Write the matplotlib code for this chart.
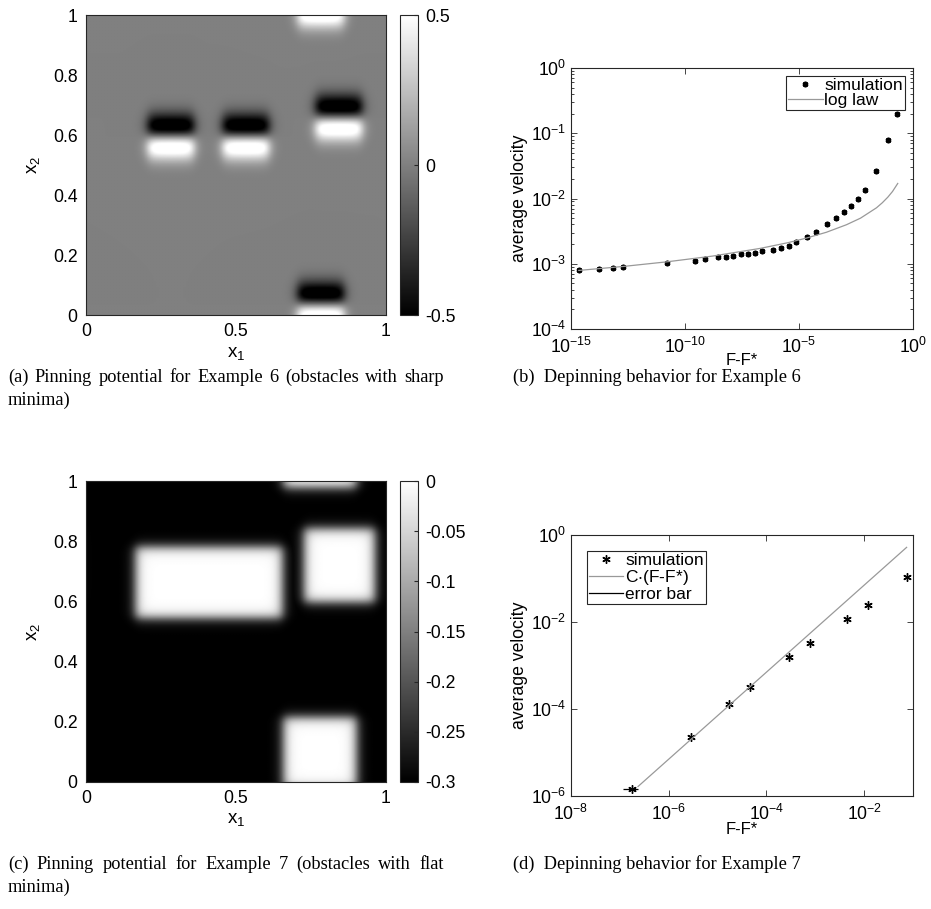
import numpy as np
import matplotlib
matplotlib.use("Agg")
import matplotlib.pyplot as plt
from matplotlib.ticker import FixedLocator, FixedFormatter, NullLocator, LogLocator

plt.rcParams["font.family"] = ["Liberation Sans", "DejaVu Sans"]
plt.rcParams["mathtext.default"] = "regular"

INK = "0.15"

# ---------------- Example 6: obstacles with sharp minima ----------------
ex6_cx = [0.283, 0.533, 0.843, 0.783]
ex6_cy = [0.595, 0.595, 0.658, 0.035]
ex6_halfw = [0.077, 0.077, 0.077, 0.077]
ex6_sigma = 0.038
ex6_amp = 0.6

# ---------------- Example 7: obstacles with flat minima -----------------
ex7_cx = [0.41, 0.845, 0.78]
ex7_cy = [0.663, 0.72, 0.097]
ex7_hx = [0.245, 0.118, 0.122]
ex7_hy = [0.118, 0.122, 0.118]
ex7_depth = -0.3

# ---------------- depinning, Example 6 ----------------
sim6_F = [2.24e-15, 1.74e-14, 7.2e-14, 1.86e-13, 1.58e-11, 2.63e-10, 7.4e-10,
          2.7e-9, 6.0e-9, 1.29e-8, 2.8e-8, 5.75e-8, 1.15e-7, 2.34e-7, 6.9e-7,
          1.62e-6, 3.55e-6, 7.4e-6, 2.24e-5, 5.4e-5, 1.74e-4, 4.2e-4, 9.3e-4,
          1.86e-3, 3.8e-3, 7.8e-3, 2.34e-2, 8.3e-2, 0.209]
sim6_v = [7.9e-4, 8.26e-4, 8.7e-4, 8.9e-4, 1.04e-3, 1.12e-3, 1.19e-3,
          1.25e-3, 1.28e-3, 1.33e-3, 1.39e-3, 1.43e-3, 1.48e-3, 1.55e-3, 1.64e-3,
          1.74e-3, 1.89e-3, 2.13e-3, 2.54e-3, 3.06e-3, 4.07e-3, 5.03e-3, 6.16e-3,
          7.8e-3, 1.0e-2, 1.34e-2, 2.6e-2, 7.8e-2, 0.196]
loglaw_F = [2.2e-15, 2.0e-13, 1.6e-11, 1.6e-9, 2.0e-7, 3.2e-6, 2.0e-5, 1.6e-4,
            1.2e-3, 5.0e-3, 2.5e-2, 4.5e-2, 7.9e-2, 0.126, 0.214]
loglaw_v = [7.9e-4, 9.1e-4, 1.07e-3, 1.31e-3, 1.72e-3, 2.1e-3, 2.46e-3, 3.04e-3,
            3.96e-3, 5.0e-3, 7.2e-3, 8.6e-3, 1.05e-2, 1.28e-2, 1.7e-2]

# ---------------- depinning, Example 7 ----------------
sim7_F = [1.74e-7, 2.9e-6, 1.7e-5, 4.6e-5, 2.9e-4, 7.7e-4, 4.5e-3, 1.2e-2, 7.4e-2]
sim7_v = [1.45e-6, 2.3e-5, 1.3e-4, 3.2e-4, 1.6e-3, 3.3e-3, 1.15e-2, 2.4e-2, 0.11]
err_F_lo = [1.17e-7]
err_F_hi = [2.35e-7]
err_v = [1.45e-6]
lin_F = [2.35e-7, 7.4e-2]
lin_v = [1.65e-6, 0.52]

captions = [
    ("(a)  Pinning potential for Example 6 (obstacles with sharp", "minima)"),
    ("(b)  Depinning behavior for Example 6", None),
    ("(c)  Pinning potential for Example 7 (obstacles with flat", "minima)"),
    ("(d)  Depinning behavior for Example 7", None),
]

W, H = 931, 909
fig = plt.figure(figsize=(W / 100, H / 100), dpi=100)


def box(l, t, r, b):
    return [l / W, 1 - b / H, (r - l) / W, (b - t) / H]


def plateau(d, half, w):
    return 0.5 * (np.tanh((half - np.abs(d)) / w) + 1.0)


def wrap(d):
    return (d + 0.5) % 1.0 - 0.5


n = 500
g = (np.arange(n) + 0.5) / n
X, Y = np.meshgrid(g, g)

V6 = np.zeros_like(X)
for cx, cy, hw in zip(ex6_cx, ex6_cy, ex6_halfw):
    dx = wrap(X - cx)
    dy = wrap(Y - cy)
    t = dy / ex6_sigma
    V6 += ex6_amp * plateau(dx, hw, 0.02) * (-t * np.exp(0.5 - 0.5 * t ** 2))

prof = np.zeros_like(X)
for cx, cy, hx, hy in zip(ex7_cx, ex7_cy, ex7_hx, ex7_hy):
    dx = wrap(X - cx)
    dy = wrap(Y - cy)
    prof = np.maximum(prof, plateau(dx, hx, 0.021) * plateau(dy, hy, 0.021))
V7 = ex7_depth * (1.0 - prof)


def style_axes(ax):
    for s in ax.spines.values():
        s.set_color(INK)
        s.set_linewidth(0.8)
    ax.tick_params(which="both", direction="in", top=True, right=True,
                   colors=INK, labelcolor="black", labelsize=12.7, width=0.6)
    ax.tick_params(which="major", length=4)
    ax.tick_params(which="minor", length=2)


def heat_panel(ax_box, cb_box, V, vmin, vmax, cticks, clabels):
    ax = fig.add_axes(box(*ax_box))
    im = ax.imshow(V, origin="lower", extent=[0, 1, 0, 1], cmap="gray",
                   vmin=vmin, vmax=vmax, aspect="auto", interpolation="bilinear")
    style_axes(ax)
    ax.set_xticks([0, 0.5, 1])
    ax.set_xticklabels(["0", "0.5", "1"])
    ax.set_yticks([0, 0.2, 0.4, 0.6, 0.8, 1])
    ax.set_yticklabels(["0", "0.2", "0.4", "0.6", "0.8", "1"])
    ax.tick_params(length=0, pad=6)
    ax.set_xlabel("x$_1$", fontsize=13.5, labelpad=3)
    ax.set_ylabel("x$_2$", fontsize=13.5, labelpad=8)
    cax = fig.add_axes(box(*cb_box))
    cb = fig.colorbar(im, cax=cax)
    cb.outline.set_edgecolor(INK)
    cb.outline.set_linewidth(0.8)
    cb.set_ticks(cticks)
    cb.set_ticklabels(clabels)
    cax.tick_params(direction="in", length=3, colors=INK, labelcolor="black",
                    labelsize=12.7, pad=5)
    return ax


def log_labels(exps):
    return ["$10^{%d}$" % e for e in exps]


# (a)
heat_panel((86, 15, 386, 315), (400, 15, 418, 315), V6, -0.5, 0.5,
           [-0.5, 0, 0.5], ["-0.5", "0", "0.5"])

# (c)
heat_panel((86, 481, 386, 782), (400, 481, 418, 782), V7, -0.3, 0.0,
           [-0.3, -0.25, -0.2, -0.15, -0.1, -0.05, 0],
           ["-0.3", "-0.25", "-0.2", "-0.15", "-0.1", "-0.05", "0"])

# (b)
axb = fig.add_axes(box(571, 68, 913, 329))
axb.set_xscale("log")
axb.set_yscale("log")
axb.plot(sim6_F, sim6_v, linestyle="none", marker=(6, 2, 0), markersize=4,
         markeredgewidth=1.5, color="black", label="simulation")
axb.plot(loglaw_F, loglaw_v, color="0.6", linewidth=0.9, label="log law")
axb.set_xlim(1e-15, 1)
axb.set_ylim(1e-4, 1)
style_axes(axb)
axb.xaxis.set_major_locator(FixedLocator([1e-15, 1e-10, 1e-5, 1]))
axb.xaxis.set_major_formatter(FixedFormatter(log_labels([-15, -10, -5, 0])))
axb.xaxis.set_minor_locator(NullLocator())
axb.yaxis.set_major_locator(FixedLocator([1e-4, 1e-3, 1e-2, 1e-1, 1]))
axb.yaxis.set_major_formatter(FixedFormatter(log_labels([-4, -3, -2, -1, 0])))
axb.yaxis.set_minor_locator(LogLocator(base=10, subs=np.arange(2, 10)))
axb.yaxis.set_minor_formatter(FixedFormatter([]))
axb.tick_params(axis="x", pad=6)
axb.set_xlabel("F-F*", fontsize=12, labelpad=-3)
axb.set_ylabel("average velocity", fontsize=12.7, labelpad=2)
leg = axb.legend(loc="upper right", fontsize=12.5, frameon=True, fancybox=False,
                 edgecolor=INK, framealpha=1, borderpad=0.12, labelspacing=0.0,
                 handlelength=2.0, handletextpad=0.1, borderaxespad=0.45,
                 markerscale=1.0)
leg.get_frame().set_linewidth(0.8)

# (d)
axd = fig.add_axes(box(571, 535, 913, 796))
axd.set_xscale("log")
axd.set_yscale("log")
axd.plot(sim7_F, sim7_v, linestyle="none", marker=(6, 2, 0), markersize=6,
         markeredgewidth=1.0, color="black", label="simulation")
axd.plot(lin_F, lin_v, color="0.6", linewidth=0.9, label="C$\\cdot$(F-F*)")
xerr = [[v - lo for v, lo in zip(sim7_F[:1], err_F_lo)],
        [hi - v for v, hi in zip(sim7_F[:1], err_F_hi)]]
axd.errorbar(sim7_F[:1], err_v, xerr=xerr, fmt="none", ecolor="black",
             elinewidth=0.9, capsize=0)
axd.plot([], [], color="black", linewidth=0.9, label="error bar")
axd.set_xlim(1e-8, 1e-1)
axd.set_ylim(1e-6, 1)
style_axes(axd)
axd.xaxis.set_major_locator(FixedLocator([1e-8, 1e-6, 1e-4, 1e-2]))
axd.xaxis.set_major_formatter(FixedFormatter(log_labels([-8, -6, -4, -2])))
axd.xaxis.set_minor_locator(NullLocator())
axd.yaxis.set_major_locator(FixedLocator([1e-6, 1e-4, 1e-2, 1]))
axd.yaxis.set_major_formatter(FixedFormatter(log_labels([-6, -4, -2, 0])))
axd.yaxis.set_minor_locator(NullLocator())
axd.tick_params(axis="x", pad=6)
axd.set_xlabel("F-F*", fontsize=12, labelpad=-2)
axd.set_ylabel("average velocity", fontsize=12.7, labelpad=2)
leg = axd.legend(loc="upper left", fontsize=12.5, frameon=True, fancybox=False,
                 edgecolor=INK, framealpha=1, borderpad=0.12, labelspacing=0.0,
                 handlelength=2.0, handletextpad=0.1, borderaxespad=0.9)
leg.get_frame().set_linewidth(0.8)

# captions: the first line of a wrapped caption is justified to the column width
cap_kw = dict(fontsize=13.2, family=["Liberation Serif", "DejaVu Serif"],
              va="baseline", ha="left")
renderer = fig.canvas.get_renderer()


def caption(x0, x1, y_base, first, second):
    if second is None:
        fig.text(x0 / W, 1 - y_base / H, first, **cap_kw)
        return
    words = first.split()
    texts = [fig.text(0, 1 - y_base / H, w, **cap_kw) for w in words]
    widths = [t.get_window_extent(renderer).width for t in texts]
    gap = ((x1 - x0) - sum(widths)) / (len(words) - 1)
    x = x0
    for t, wd in zip(texts, widths):
        t.set_x(x / W)
        x += wd + gap
    fig.text(x0 / W, 1 - (y_base + 23) / H, second, **cap_kw)


caption(8, 444, 382, *captions[0])
caption(513, 790, 382, *captions[1])
caption(8, 444, 869, *captions[2])
caption(513, 790, 869, *captions[3])

fig.savefig("out.png", dpi=100)
